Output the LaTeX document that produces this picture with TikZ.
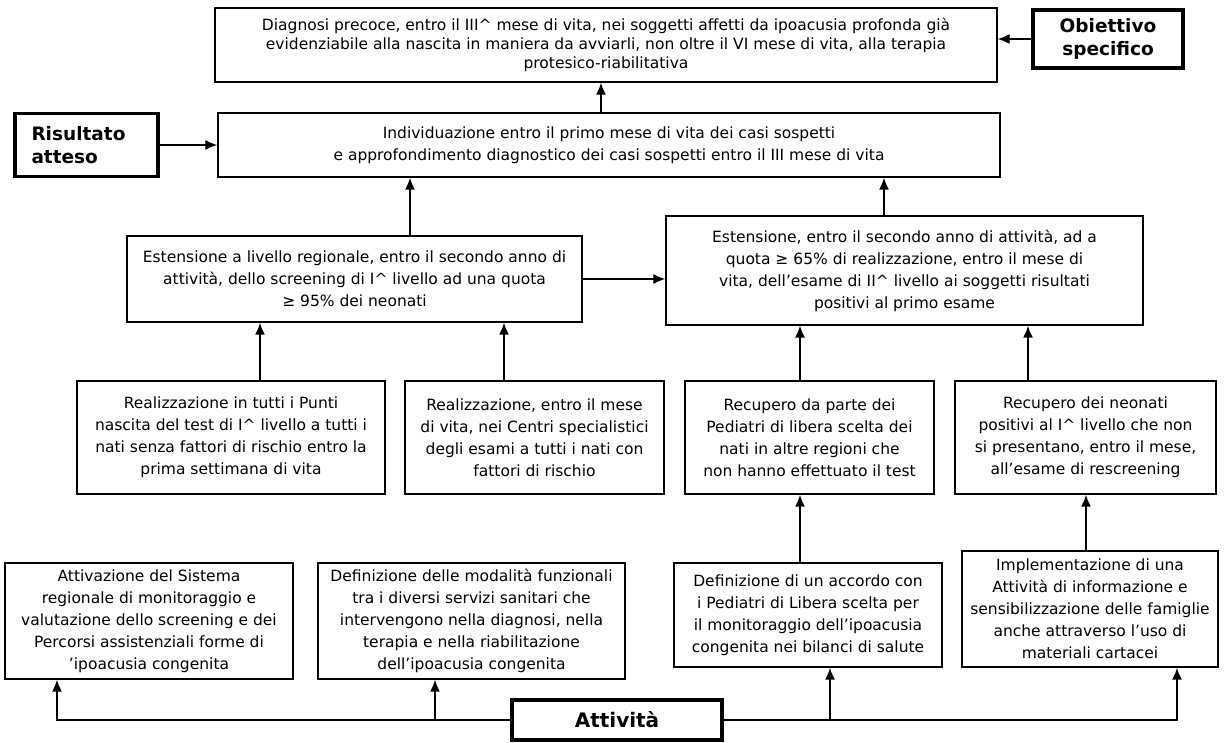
\documentclass[tikz,border=0pt]{standalone}
\usepackage{fontspec}
\setmainfont{DejaVu Sans}
\usepackage{tikz}
\usetikzlibrary{arrows,arrows.meta,positioning}

\newcommand{\boxtxt}{\fontsize{15.5}{22}\selectfont}
\newcommand{\keytxt}{\fontsize{18.5}{23}\selectfont\bfseries}

\begin{document}
\begin{tikzpicture}[
    x=1pt, y=-1pt,
    box/.style={draw, line width=1.2pt, align=center, font=\boxtxt, inner sep=0pt},
    keybox/.style={draw, line width=3.2pt, font=\keytxt, inner sep=0pt},
    arrow/.style={-{Latex[length=12pt,width=10pt]}, line width=1.8pt}
]
\useasboundingbox (0,0) rectangle (1229,742);

% obiettivo e risultato
\node[box, minimum width=782, minimum height=74, font=\fontsize{15.5}{19}\selectfont] (diagnosi) at (606,45) {Diagnosi precoce, entro il III\textasciicircum{} mese di vita, nei soggetti affetti da ipoacusia profonda già\\ evidenziabile alla nascita in maniera da avviarli, non oltre il VI mese di vita, alla terapia\\ protesico-riabilitativa};
\node[keybox, minimum width=150, minimum height=58, align=center] (obiettivo) at (1108,39) {Obiettivo\\specifico};
\node[keybox, text width=110, inner xsep=16.5pt, minimum height=63, align=left] (risultato) at (86.5,145) {Risultato\\atteso};
\node[box, minimum width=782, minimum height=64] (individuazione) at (609,145) {Individuazione entro il primo mese di vita dei casi sospetti\\ e approfondimento diagnostico dei casi sospetti entro il III mese di vita};

\draw[arrow] (obiettivo.west) -- (obiettivo.west -| diagnosi.east);
\draw[arrow] (risultato.east) -- (risultato.east -| individuazione.west);
\draw[arrow] (individuazione.north -| 601,0) -- (diagnosi.south -| 601,0);

% estensioni
\node[box, minimum width=455, minimum height=86] (estregionale) at (354.5,279) {Estensione a livello regionale, entro il secondo anno di\\ attività, dello screening di I\textasciicircum{} livello ad una quota\\ ≥ 95\% dei neonati};
\node[box, minimum width=477, minimum height=109] (estsecondo) at (904.5,270.5) {Estensione, entro il secondo anno di attività, ad a\\ quota ≥ 65\% di realizzazione, entro il mese di\\ vita, dell’esame di II\textasciicircum{} livello ai soggetti risultati\\ positivi al primo esame};

\draw[arrow] (estregionale.north -| 410,0) -- (individuazione.south -| 410,0);
\draw[arrow] (estsecondo.north -| 884,0) -- (individuazione.south -| 884,0);
\draw[arrow] (estregionale.east) -- (estregionale.east -| estsecondo.west);

% realizzazione e recupero
\node[box, minimum width=308, minimum height=113] (puntinascita) at (231,437.5) {Realizzazione in tutti i Punti\\ nascita del test di I\textasciicircum{} livello a tutti i\\ nati senza fattori di rischio entro la\\ prima settimana di vita};
\node[box, minimum width=259, minimum height=113] (centri) at (534.5,437.5) {Realizzazione, entro il mese\\ di vita, nei Centri specialistici\\ degli esami a tutti i nati con\\ fattori di rischio};
\node[box, minimum width=249, minimum height=113] (pediatri) at (809.5,437.5) {Recupero da parte dei\\ Pediatri di libera scelta dei\\ nati in altre regioni che\\ non hanno effettuato il test};
\node[box, minimum width=261, minimum height=113] (rescreening) at (1085.5,437.5) {Recupero dei neonati\\ positivi al I\textasciicircum{} livello che non\\ si presentano, entro il mese,\\ all’esame di rescreening};

\draw[arrow] (puntinascita.north -| 260,0) -- (estregionale.south -| 260,0);
\draw[arrow] (centri.north -| 504,0) -- (estregionale.south -| 504,0);
\draw[arrow] (pediatri.north -| 800,0) -- (estsecondo.south -| 800,0);
\draw[arrow] (rescreening.north -| 1028,0) -- (estsecondo.south -| 1028,0);

% attivita
\node[box, minimum width=288, minimum height=116] (sistema) at (149,621) {Attivazione del Sistema\\ regionale di monitoraggio e\\ valutazione dello screening e dei\\ Percorsi assistenziali forme di\\ ’ipoacusia congenita};
\node[box, minimum width=307, minimum height=116] (modalita) at (471.5,621) {Definizione delle modalità funzionali\\ tra i diversi servizi sanitari che\\ intervengono nella diagnosi, nella\\ terapia e nella riabilitazione\\ dell’ipoacusia congenita};
\node[box, minimum width=268, minimum height=104] (accordo) at (808,615) {Definizione di un accordo con\\ i Pediatri di Libera scelta per\\ il monitoraggio dell’ipoacusia\\ congenita nei bilanci di salute};
\node[box, minimum width=256, minimum height=116] (informazione) at (1090,609) {Implementazione di una\\ Attività di informazione e\\ sensibilizzazione delle famiglie\\ anche attraverso l’uso di\\ materiali cartacei};
\node[keybox, minimum width=210, minimum height=40, font=\fontsize{20}{24}\selectfont\bfseries] (attivita) at (617,720) {Attività};

\draw[arrow] (accordo.north -| 800,0) -- (pediatri.south -| 800,0);
\draw[arrow] (informazione.north -| 1086,0) -- (rescreening.south -| 1086,0);

\draw[arrow] (attivita.west) -| (sistema.south -| 57,0);
\draw[arrow] (attivita.west -| 435,0) -- (modalita.south -| 435,0);
\draw[arrow] (attivita.east) -| (informazione.south -| 1177,0);
\draw[arrow] (attivita.east -| 830,0) -- (accordo.south -| 830,0);
\end{tikzpicture}
\end{document}
